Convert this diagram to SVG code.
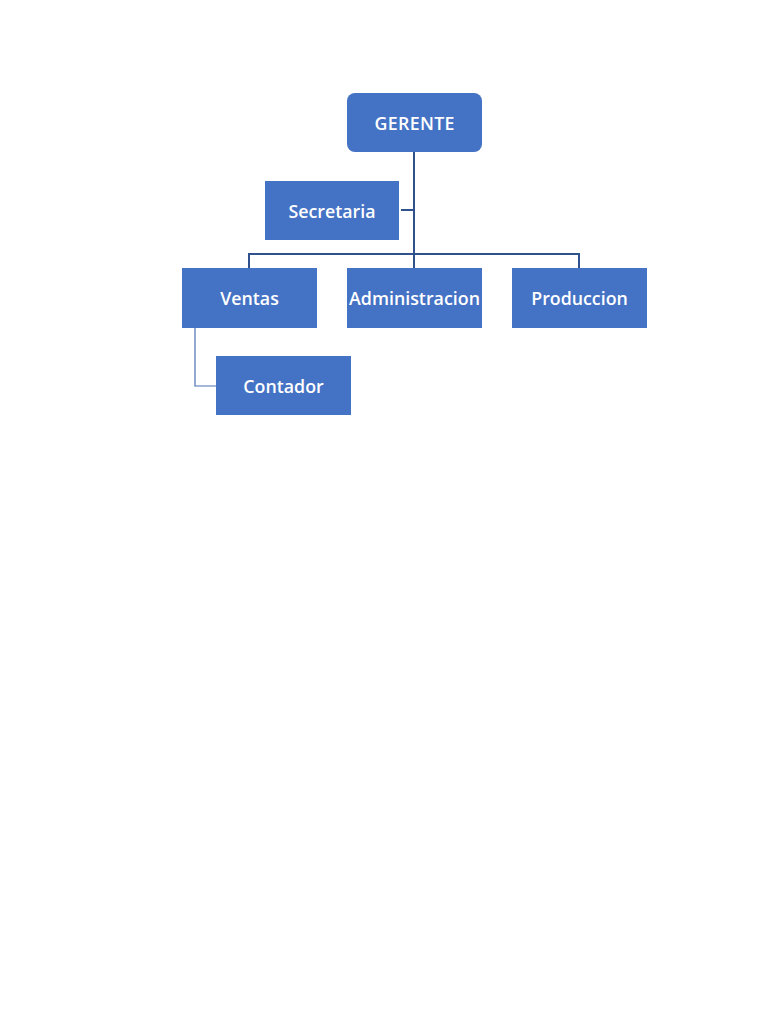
<svg xmlns="http://www.w3.org/2000/svg" width="768" height="1024" viewBox="0 0 768 1024">
<style>
.box{fill:#4472C4}
.lbl{fill:#fff;font-family:"Open Sans","Liberation Sans",sans-serif;font-weight:600;font-size:17.8px;text-anchor:middle;dominant-baseline:central}
.ln{stroke:#2F528F;stroke-width:2;fill:none}
.ln2{stroke:#4A70B5;stroke-width:1.2;fill:none}
</style>
<rect width="768" height="1024" fill="#fff"/>
<g id="connectors">
<path class="ln" d="M414 152V268"/>
<path class="ln" d="M249 268V254H579V268"/>
<path class="ln" d="M401 210H414"/>
<path class="ln2" d="M195 328V386H216"/>
</g>
<g id="gerente"><rect class="box" x="347" y="93" width="135" height="59" rx="8"/><text class="lbl" x="414.5" y="123" textLength="80" lengthAdjust="spacing">GERENTE</text></g>
<g id="secretaria"><rect class="box" x="265" y="181" width="134" height="59"/><text class="lbl" x="332" y="211">Secretaria</text></g>
<g id="ventas"><rect class="box" x="182" y="268" width="135" height="60"/><text class="lbl" x="249.5" y="298">Ventas</text></g>
<g id="administracion"><rect class="box" x="347" y="268" width="135" height="60"/><text class="lbl" x="414.5" y="298" textLength="131" lengthAdjust="spacingAndGlyphs">Administracion</text></g>
<g id="produccion"><rect class="box" x="512" y="268" width="135" height="60"/><text class="lbl" x="579.5" y="298">Produccion</text></g>
<g id="contador"><rect class="box" x="216" y="356" width="135" height="59"/><text class="lbl" x="283.5" y="386">Contador</text></g>
</svg>
